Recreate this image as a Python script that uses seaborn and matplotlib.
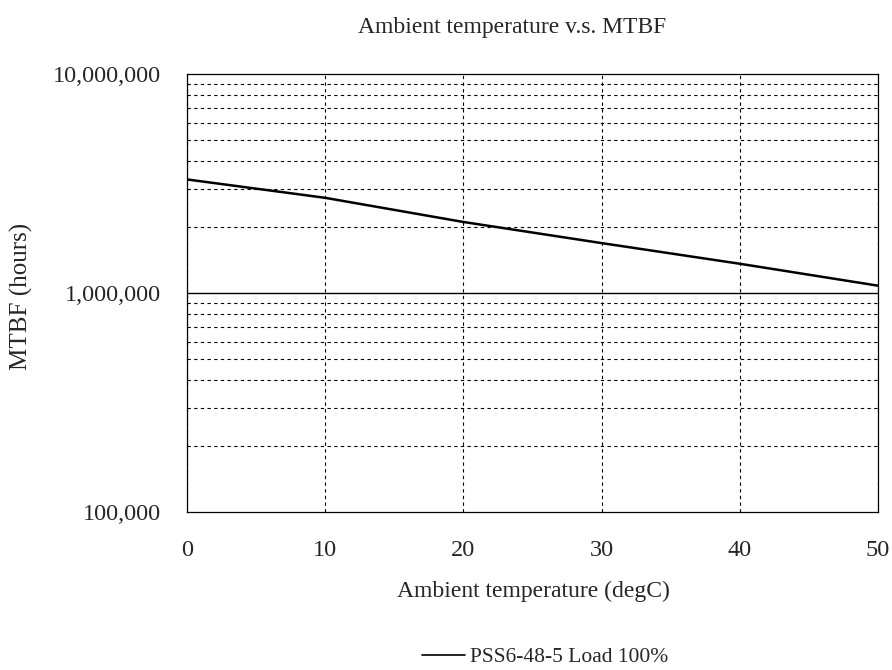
import numpy as np
import pandas as pd
import matplotlib.pyplot as plt
import matplotlib.ticker as mticker
import seaborn as sns

# data
temps = [0, 10, 20, 30, 40, 50]
mtbf_hours = [3300000, 2720000, 2110000, 1690000, 1360000, 1080000]
series_name = "PSS6-48-5 Load 100%"

df = pd.DataFrame({"temp": temps, "mtbf": mtbf_hours, "series": series_name})

sns.set_style("white")
plt.rcParams["font.family"] = ["Liberation Serif", "DejaVu Serif"]

fig = plt.figure(figsize=(8.92, 6.7), dpi=100)
ax = fig.add_axes([187 / 892, 1 - 512 / 670, (878 - 187) / 892, (512 - 74) / 670])

sns.lineplot(data=df, x="temp", y="mtbf", hue="series", palette=["black"],
             linewidth=1.8, ax=ax, legend=False)

ax.set_yscale("log")
ax.set_xlim(0, 50)
ax.set_ylim(1e5, 1e7)
ax.set_xticks([0, 10, 20, 30, 40, 50])
ax.yaxis.set_major_locator(mticker.FixedLocator([1e5, 1e6, 1e7]))
ax.yaxis.set_major_formatter(mticker.FuncFormatter(lambda v, p: f"{int(round(v)):,}"))
ax.yaxis.set_minor_locator(mticker.LogLocator(base=10, subs=np.arange(2, 10)))
ax.yaxis.set_minor_formatter(mticker.NullFormatter())

# grid: dashed everywhere, solid at 1,000,000
ax.grid(True, axis="x", which="major", color="black", linestyle=(0, (3, 3)), linewidth=0.8)
ax.grid(True, axis="y", which="minor", color="black", linestyle=(0, (3, 3)), linewidth=0.8)
ax.axhline(1e6, color="black", linewidth=1.0, zorder=1)

ax.tick_params(axis="both", which="both", length=0, labelsize=17.5)
ax.tick_params(axis="x", pad=20)
ax.tick_params(axis="y", pad=19)
for s in ax.spines.values():
    s.set_color("black")
    s.set_linewidth(0.9)

ax.set_xlabel("")
ax.set_ylabel("")
fig.text(512 / 892, 1 - 27 / 670, "Ambient temperature v.s. MTBF", ha="center", va="center", fontsize=17)
fig.text(533 / 892, 1 - 591 / 670, "Ambient temperature (degC)", ha="center", va="center", fontsize=17)
fig.text(21 / 892, 1 - 296 / 670, "MTBF (hours)", ha="center", va="center", rotation=90, fontsize=18)

handle = plt.Line2D([], [], color="black", linewidth=1.2)
fig.legend([handle], [series_name], loc="center", bbox_to_anchor=(545 / 892, 1 - 657 / 670),
           frameon=False, fontsize=15.5, handlelength=2.0, handletextpad=0.2)

fig.savefig("out.png", dpi=100)
